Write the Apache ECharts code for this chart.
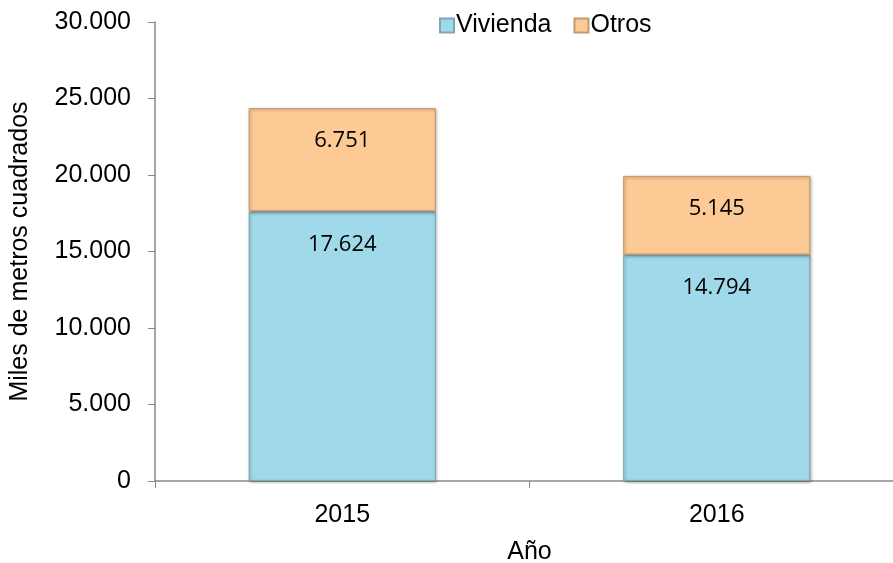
<!DOCTYPE html>
<html>
<head>
<meta charset="utf-8">
<script src="https://cdn.jsdelivr.net/npm/echarts@6/dist/echarts.min.js"></script>
<style>
  html, body { margin: 0; padding: 0; background: #fff; }
  #chart { width: 893px; height: 563px; }
</style>
</head>
<body>
<div id="chart"></div>
<script>
const years = ['2015', '2016'];
const vivienda = [17624, 14794];
const otros = [6751, 5145];
const yTicks = [0, 5000, 10000, 15000, 20000, 25000, 30000];

// miles con punto
function fmt(v) {
  return String(v).replace(/\B(?=(\d{3})+(?!\d))/g, '.');
}

var myChart = echarts.init(document.getElementById('chart'));

const barLabel = {
  show: true,
  position: 'insideTop',
  distance: 22,
  color: '#000',
  fontSize: 22,
  fontFamily: 'Open Sans',
  formatter: p => fmt(p.value)
};

const option = {
  animation: false,
  grid: { left: 155, right: -11, top: 22, bottom: 82, outerBoundsMode: 'none', containLabel: false },
  legend: {
    top: 8,
    left: 434,
    itemWidth: 14,
    itemHeight: 14,
    itemGap: 22,
    icon: 'rect',
    textStyle: { fontSize: 25, color: '#000', fontFamily: 'Liberation Sans', padding: [0, 0, 0, -3] },
    data: ['Vivienda', 'Otros']
  },
  xAxis: {
    type: 'category',
    data: years,
    name: 'Año',
    nameLocation: 'middle',
    nameGap: 59,
    nameTextStyle: { fontSize: 25, color: '#000', fontFamily: 'Liberation Sans' },
    axisLine: { lineStyle: { color: '#888', width: 1.5 } },
    axisTick: { show: true, length: 7, lineStyle: { color: '#888' } },
    axisLabel: { fontSize: 25, color: '#000', margin: 22, fontFamily: 'Liberation Sans' }
  },
  yAxis: {
    type: 'value',
    min: 0,
    max: 30000,
    interval: 5000,
    name: 'Miles de metros cuadrados',
    nameLocation: 'middle',
    nameGap: 122,
    nameTextStyle: { fontSize: 25, color: '#000', fontFamily: 'Liberation Sans' },
    axisLine: { show: true, lineStyle: { color: '#888', width: 1.5 } },
    axisTick: { show: true, length: 7, lineStyle: { color: '#888' } },
    splitLine: { show: false },
    axisLabel: {
      fontSize: 25,
      color: '#000',
      margin: 24,
      fontFamily: 'Liberation Sans',
      formatter: v => yTicks.includes(v) ? fmt(v) : ''
    }
  },
  series: [
    {
      name: 'Vivienda',
      type: 'bar',
      stack: 'total',
      barWidth: '50%',
      data: vivienda,
      itemStyle: {
        color: '#A0D9EA',
        borderColor: '#7fa6b2',
        borderWidth: 1,
        shadowColor: 'rgba(0,0,0,0.35)',
        shadowBlur: 3,
        shadowOffsetX: 1,
        shadowOffsetY: 1
      },
      label: barLabel
    },
    {
      name: 'Otros',
      type: 'bar',
      stack: 'total',
      barWidth: '50%',
      data: otros,
      itemStyle: {
        color: '#FDC994',
        borderColor: '#c29a72',
        borderWidth: 1,
        shadowColor: 'rgba(0,0,0,0.35)',
        shadowBlur: 3,
        shadowOffsetX: 1,
        shadowOffsetY: 1
      },
      label: barLabel
    }
  ]
};

myChart.setOption(option);
</script>
</body>
</html>
